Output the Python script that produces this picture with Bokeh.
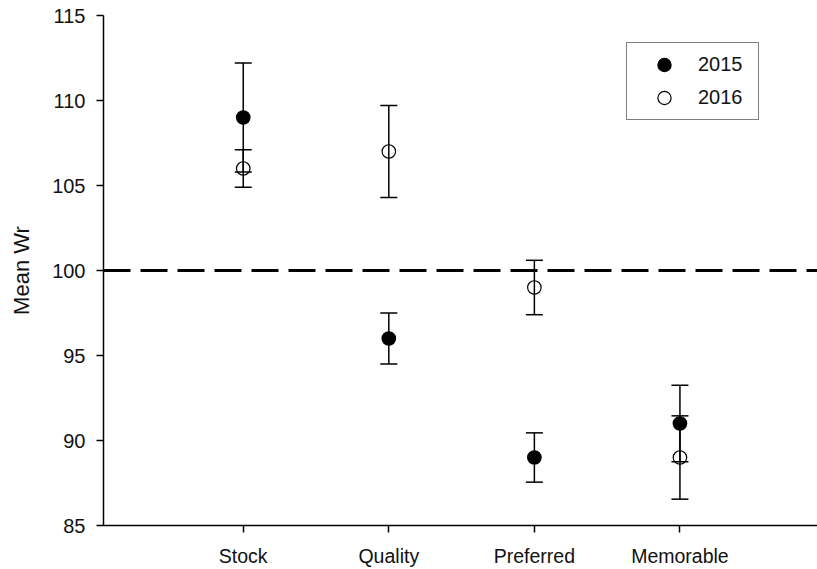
from bokeh.plotting import figure
from bokeh.models import (ColumnDataSource, Range1d, FixedTicker, Whisker, TeeHead,
                          Span, Legend, LegendItem)
from bokeh.embed import file_html
from bokeh.resources import INLINE

# ---- data ----
categories = ["Stock", "Quality", "Preferred", "Memorable"]
mean_2015 = [109, 96, 89, 91]
err_2015 = [3.2, 1.5, 1.45, 2.25]
mean_2016 = [106, 107, 99, 89]
err_2016 = [1.1, 2.7, 1.6, 2.45]
reference_wr = 100
y_ticks = [85, 90, 95, 100, 105, 110, 115]

xpos = [i + 1 for i in range(len(categories))]

src15 = ColumnDataSource(dict(x=xpos, y=mean_2015,
                              lo=[m - e for m, e in zip(mean_2015, err_2015)],
                              hi=[m + e for m, e in zip(mean_2015, err_2015)]))
src16 = ColumnDataSource(dict(x=xpos, y=mean_2016,
                              lo=[m - e for m, e in zip(mean_2016, err_2016)],
                              hi=[m + e for m, e in zip(mean_2016, err_2016)]))

FONT = "Liberation Sans"

p = figure(width=817, height=569, output_backend="svg", toolbar_location=None,
           x_range=Range1d(0.04, 4.945), y_range=Range1d(85, 115),
           min_border_left=103, min_border_right=0, min_border_top=15,
           min_border_bottom=42)
p.outline_line_color = None
p.xgrid.visible = False
p.ygrid.visible = False
p.background_fill_color = "white"
p.border_fill_color = "white"

# reference line
p.add_layout(Span(location=reference_wr, dimension="width", line_color="black",
                  line_width=2.8, line_dash="27 10"))

# error bars
for src in (src15, src16):
    w = Whisker(source=src, base="x", upper="hi", lower="lo",
                line_color="black", line_width=1.5,
                upper_head=TeeHead(size=17, line_color="black", line_width=1.5),
                lower_head=TeeHead(size=17, line_color="black", line_width=1.5))
    w.level = "glyph"
    p.add_layout(w)

r15 = p.scatter("x", "y", source=src15, size=13.5, fill_color="black",
                line_color="black", line_width=1.2)
r16 = p.scatter("x", "y", source=src16, size=13.5, fill_color="white",
                line_color="black", line_width=1.2)

legend = Legend(items=[LegendItem(label="2015", renderers=[r15]),
                       LegendItem(label="2016", renderers=[r16])],
                location=(523, 405))
legend.border_line_color = "black"
legend.border_line_width = 1.5
legend.background_fill_alpha = 1
legend.padding = 5
legend.spacing = 0
legend.glyph_width = 64
legend.glyph_height = 33
legend.label_height = 22
legend.label_width = 55
legend.label_standoff = 2
legend.label_text_font = FONT
legend.label_text_font_size = "20px"
legend.label_text_color = "#111111"
legend.margin = 0
p.add_layout(legend)

# axes
p.xaxis.ticker = FixedTicker(ticks=xpos)
p.xaxis.major_label_overrides = {x: c for x, c in zip(xpos, categories)}
p.yaxis.ticker = FixedTicker(ticks=y_ticks)
p.yaxis.axis_label = "Mean Wr"
for ax in (p.xaxis[0], p.yaxis[0]):
    ax.axis_line_color = "black"
    ax.axis_line_width = 1.5
    ax.major_tick_line_color = "black"
    ax.major_tick_line_width = 1.5
    ax.major_tick_out = 7
    ax.major_tick_in = 0
    ax.minor_tick_line_color = None
    ax.major_label_text_font = FONT
    ax.major_label_text_color = "#111111"
p.xaxis.major_label_text_font_size = "19.5px"
p.xaxis.major_label_standoff = 12
p.yaxis.major_label_text_font_size = "20px"
p.yaxis.major_label_standoff = 11
p.yaxis.axis_label_text_font = FONT
p.yaxis.axis_label_text_font_size = "22px"
p.yaxis.axis_label_text_font_style = "normal"
p.yaxis.axis_label_text_color = "#111111"
p.yaxis.axis_label_standoff = 15

open("out.html", "w").write(file_html(p, INLINE))
